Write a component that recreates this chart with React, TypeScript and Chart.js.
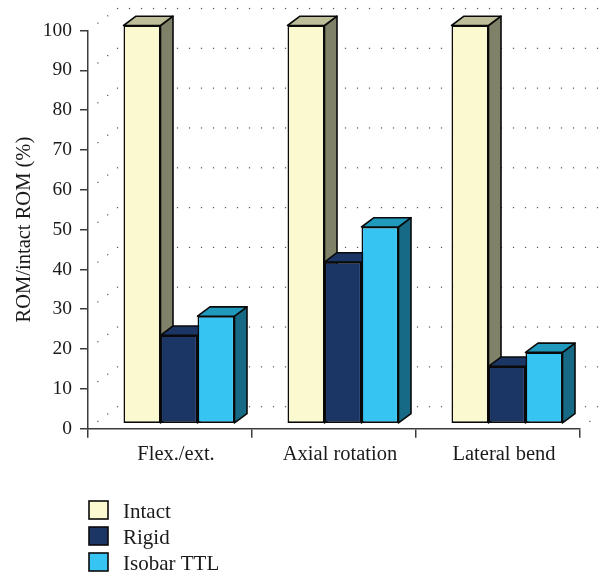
import React, { useEffect, useRef } from "react";
import { Chart, registerables } from "chart.js";

Chart.register(...registerables);

const categories = ["Flex./ext.", "Axial rotation", "Lateral bend"];
const intact = [100, 100, 100];
const rigid = [22.2, 40.6, 14.4];
const isobar = [27, 49.4, 17.9];
const yTicks = [0, 10, 20, 30, 40, 50, 60, 70, 80, 90, 100];
const seriesStyles = [
  { label: "Intact", front: "#FBF9D0", top: "#BEBE9A", side: "#7F8268" },
  { label: "Rigid", front: "#1B3564", top: "#1B3564", side: "#14284B" },
  { label: "Isobar TTL", front: "#36C5F3", top: "#1F9ABD", side: "#166A85" },
];

const FONT = "'Liberation Serif', serif";
const TEXT = "#1a1a1a";
const AXIS = "#3c3c3c";
const EDGE = "#0a0a0a";
const OFFSET_X = 9;
const OFFSET_Y = -5;
const DEPTH_X = 12.5;
const DEPTH_Y = -9.3;
const WALL_X = 29.5;
const WALL_Y = -22;

function dottedLine(ctx: CanvasRenderingContext2D, x0: number, y0: number, x1: number, y1: number, step: number) {
  const len = Math.hypot(x1 - x0, y1 - y0);
  const n = Math.floor(len / step + 1e-6);
  ctx.fillStyle = "#555555";
  for (let i = 1; i <= n; i++) {
    const t = (i * step) / len;
    ctx.fillRect(x0 + (x1 - x0) * t - 0.6, y0 + (y1 - y0) * t - 0.6, 1.2, 1.2);
  }
}

function poly(ctx: CanvasRenderingContext2D, pts: number[][], fill: string) {
  ctx.beginPath();
  pts.forEach((p, i) => (i ? ctx.lineTo(p[0], p[1]) : ctx.moveTo(p[0], p[1])));
  ctx.closePath();
  ctx.fillStyle = fill;
  ctx.fill();
  ctx.lineWidth = 1.6;
  ctx.strokeStyle = EDGE;
  ctx.lineJoin = "round";
  ctx.stroke();
}

const bars3d = {
  id: "bars3d",
  beforeDatasetsDraw(chart: any) {
    const { ctx, scales, chartArea } = chart;
    const y = scales.y;
    ctx.save();
    // Dotted back wall and side grid, hung on the y scale
    yTicks.forEach((v) => {
      const py = y.getPixelForValue(v);
      dottedLine(ctx, chartArea.left, py, chartArea.left + WALL_X, py + WALL_Y, 12.3);
      const wx = chartArea.left + WALL_X;
      ctx.fillStyle = "#555555";
      for (let px = wx; px < chart.width; px += 12) {
        ctx.fillRect(px - 0.6, py + WALL_Y - 0.6, 1.2, 1.2);
      }
    });
    dottedLine(ctx, chartArea.right, y.getPixelForValue(0), chartArea.right + WALL_X, y.getPixelForValue(0) + WALL_Y, 12.3);

    ctx.translate(OFFSET_X, OFFSET_Y);
    chart.data.datasets.forEach((_: any, i: number) => {
      const style = seriesStyles[i];
      chart.getDatasetMeta(i).data.forEach((bar: any) => {
        const p = bar.getProps(["x", "y", "base", "width"], true);
        const l = p.x - p.width / 2;
        const r = p.x + p.width / 2;
        poly(ctx, [[r, p.y], [r + DEPTH_X, p.y + DEPTH_Y], [r + DEPTH_X, p.base + DEPTH_Y], [r, p.base]], style.side);
        poly(ctx, [[l, p.y], [l + DEPTH_X, p.y + DEPTH_Y], [r + DEPTH_X, p.y + DEPTH_Y], [r, p.y]], style.top);
        bar.draw(ctx);
      });
    });
    ctx.restore();
    return false;
  },
};

const sideLegend = {
  id: "sideLegend",
  afterDraw(chart: any) {
    const { ctx } = chart;
    ctx.save();
    chart.data.datasets.forEach((d: any, i: number) => {
      const top = 501 + i * 26;
      ctx.fillStyle = d.backgroundColor;
      ctx.strokeStyle = EDGE;
      ctx.lineWidth = 1.6;
      ctx.fillRect(89, top, 19, 18);
      ctx.strokeRect(89, top, 19, 18);
      ctx.fillStyle = TEXT;
      ctx.font = `21px ${FONT}`;
      ctx.textBaseline = "middle";
      ctx.textAlign = "left";
      ctx.fillText(d.label, 123, top + 11);
    });
    ctx.restore();
  },
};

export default function App() {
  const ref = useRef<HTMLCanvasElement>(null);
  useEffect(() => {
    const chart = new Chart(ref.current!, {
      type: "bar",
      data: {
        labels: categories,
        datasets: [intact, rigid, isobar].map((data, i) => ({
          label: seriesStyles[i].label,
          data,
          backgroundColor: seriesStyles[i].front,
          borderColor: EDGE,
          borderWidth: 1.6,
          borderSkipped: false,
          barPercentage: 1,
          categoryPercentage: 111 / 164,
        })),
      },
      options: {
        responsive: false,
        animation: false,
        layout: { padding: { top: 30.5, right: 19, left: 0, bottom: 0 } },
        plugins: { legend: { display: false }, tooltip: { enabled: false } },
        scales: {
          x: {
            afterFit: (s: any) => { s.height = 144.3; },
            grid: { drawOnChartArea: false, drawTicks: true, tickLength: 9, color: AXIS, lineWidth: 1.5, offset: true },
            border: { color: AXIS, width: 1.5 },
            ticks: { color: TEXT, font: { family: FONT, size: 20.5 }, padding: 5, maxRotation: 0, labelOffset: 6 },
          },
          y: {
            min: 0,
            max: 100,
            afterFit: (s: any) => { s.width = 88; },
            grid: { drawOnChartArea: false, drawTicks: true, tickLength: 8, color: AXIS, lineWidth: 1.5 },
            border: { color: AXIS, width: 1.5 },
            ticks: { stepSize: 10, color: TEXT, font: { family: FONT, size: 19.5 }, padding: 8 },
            title: { display: true, text: "ROM/intact ROM (%)", color: TEXT, font: { family: FONT, size: 20.5 }, padding: { top: 12, bottom: 0 } },
          },
        },
      },
      plugins: [bars3d, sideLegend],
    } as any);
    return () => chart.destroy();
  }, []);
  return (
    <div style={{ position: "fixed", left: 0, top: 0, width: 599, height: 573 }}>
      <canvas ref={ref} width={599} height={573} style={{ display: "block" }} />
    </div>
  );
}
